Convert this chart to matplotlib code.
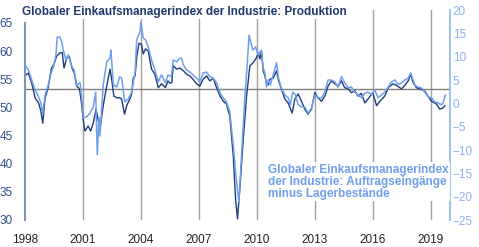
import matplotlib.pyplot as plt

plt.rcParams['font.family'] = ['Liberation Sans', 'DejaVu Sans']

# Globaler EMI Industrie: Produktion (linke Achse)
t_prod = [1998.00, 1998.17, 1998.35, 1998.52, 1998.70, 1998.82, 1998.92, 1999.04, 1999.20, 1999.37,
          1999.50, 1999.64, 1999.81, 1999.93, 2000.02, 2000.16, 2000.30, 2000.43, 2000.55, 2000.67,
          2000.82, 2000.93, 2001.02, 2001.10, 2001.27, 2001.40, 2001.53, 2001.68, 2001.80, 2001.90,
          2002.05, 2002.23, 2002.40, 2002.50, 2002.60, 2002.75, 2002.90, 2003.00, 2003.15, 2003.26,
          2003.43, 2003.52, 2003.60, 2003.70, 2003.78, 2003.90, 2004.03, 2004.12, 2004.24, 2004.38,
          2004.55, 2004.72, 2004.90, 2005.07, 2005.27, 2005.40, 2005.50, 2005.60, 2005.67, 2005.85,
          2006.02, 2006.20, 2006.36, 2006.53, 2006.70, 2006.88, 2007.05, 2007.22, 2007.40, 2007.57,
          2007.74, 2007.92, 2008.10, 2008.26, 2008.43, 2008.52, 2008.60, 2008.78, 2008.90, 2009.00,
          2009.12, 2009.30, 2009.47, 2009.64, 2009.80, 2009.98, 2010.07, 2010.16, 2010.24, 2010.33,
          2010.42, 2010.50, 2010.58, 2010.68, 2010.85, 2011.02, 2011.13, 2011.27, 2011.45, 2011.62,
          2011.83, 2011.97, 2012.14, 2012.31, 2012.48, 2012.65, 2012.83, 2013.00, 2013.17, 2013.35,
          2013.52, 2013.69, 2013.86, 2014.04, 2014.21, 2014.38, 2014.55, 2014.73, 2014.90, 2015.07,
          2015.24, 2015.41, 2015.59, 2015.76, 2016.00, 2016.20, 2016.37, 2016.62, 2016.80, 2017.05,
          2017.23, 2017.49, 2017.66, 2017.83, 2017.97, 2018.09, 2018.26, 2018.43, 2018.69, 2018.86,
          2019.04, 2019.30, 2019.47, 2019.64, 2019.73]
produktion = [55.6, 56.1, 54.3, 51.7, 50.8, 49.4, 47.2, 51.7, 53.5, 57.0,
              57.7, 59.1, 59.7, 59.7, 57.0, 58.8, 59.0, 57.0, 56.1, 53.8,
              53.3, 50.6, 47.6, 45.8, 46.7, 45.8, 47.2, 49.7, 47.5, 46.7,
              50.3, 53.8, 56.8, 54.7, 52.0, 51.7, 51.7, 51.5, 48.8, 50.3,
              51.5, 52.4, 55.2, 55.6, 58.8, 61.4, 61.2, 59.5, 60.4, 60.0,
              56.8, 55.9, 53.5, 54.2, 53.5, 54.7, 54.3, 54.4, 57.4, 56.8,
              57.0, 56.5, 55.9, 55.6, 55.0, 54.2, 53.8, 55.0, 55.6, 54.7,
              55.2, 53.5, 52.0, 51.1, 50.6, 49.4, 48.5, 41.4, 33.7, 30.2,
              35.5, 44.4, 52.0, 57.4, 57.9, 58.8, 59.7, 58.6, 60.0, 56.5,
              55.6, 54.3, 54.0, 55.0, 55.2, 56.5, 54.7, 53.3, 51.5, 50.8,
              49.0, 51.5, 52.4, 51.1, 49.7, 48.8, 49.7, 52.6, 51.7, 51.1,
              52.0, 53.8, 54.7, 54.2, 53.8, 54.7, 53.5, 53.3, 52.6, 53.0,
              52.0, 52.5, 50.8, 51.5, 52.6, 50.3, 51.1, 52.0, 53.5, 54.2,
              53.9, 53.3, 53.9, 54.7, 55.9, 54.4, 53.5, 53.3, 52.9, 52.0,
              51.1, 50.6, 49.7, 49.9, 50.3]

# Auftragseingänge minus Lagerbestände (rechte Achse)
t_auftr = [1998.00, 1998.17, 1998.35, 1998.52, 1998.70, 1998.82, 1998.92, 1999.04, 1999.20, 1999.37,
           1999.50, 1999.60, 1999.67, 1999.81, 1999.90, 1999.98, 2000.12, 2000.24, 2000.42, 2000.54,
           2000.68, 2000.85, 2000.93, 2001.02, 2001.19, 2001.36, 2001.53, 2001.66, 2001.74, 2001.83,
           2001.88, 2002.05, 2002.23, 2002.40, 2002.45, 2002.57, 2002.75, 2002.90, 2003.00, 2003.17,
           2003.35, 2003.52, 2003.70, 2003.78, 2003.95, 2004.00, 2004.12, 2004.24, 2004.38, 2004.55,
           2004.72, 2004.90, 2005.07, 2005.27, 2005.40, 2005.58, 2005.67, 2005.85, 2006.02, 2006.10,
           2006.20, 2006.36, 2006.53, 2006.70, 2006.88, 2007.05, 2007.22, 2007.40, 2007.57, 2007.74,
           2007.92, 2008.10, 2008.26, 2008.43, 2008.60, 2008.78, 2008.95, 2009.07, 2009.20, 2009.38,
           2009.50, 2009.60, 2009.72, 2009.80, 2009.94, 2010.06, 2010.15, 2010.24, 2010.33, 2010.42,
           2010.50, 2010.60, 2010.70, 2010.85, 2011.02, 2011.12, 2011.27, 2011.45, 2011.62, 2011.74,
           2011.86, 2012.00, 2012.14, 2012.31, 2012.49, 2012.66, 2012.83, 2013.00, 2013.17, 2013.35,
           2013.52, 2013.69, 2013.87, 2014.04, 2014.21, 2014.38, 2014.55, 2014.73, 2014.90, 2015.07,
           2015.24, 2015.42, 2015.59, 2015.76, 2015.94, 2016.10, 2016.28, 2016.45, 2016.62, 2016.80,
           2016.97, 2017.14, 2017.31, 2017.49, 2017.66, 2017.83, 2017.97, 2018.09, 2018.18, 2018.35,
           2018.52, 2018.69, 2018.86, 2019.04, 2019.21, 2019.38, 2019.56, 2019.64, 2019.76]
auftraege = [8.2, 7.2, 5.0, 2.9, 1.4, 0.1, -2.1, 1.8, 3.9, 6.7,
             8.2, 10.4, 14.2, 14.2, 13.2, 11.4, 9.3, 10.4, 7.8, 7.2,
             3.9, 4.4, 1.4, -3.1, -2.9, -2.1, -0.8, 2.4, -11.0, -3.0,
             -7.0, 4.0, 8.9, 9.7, 11.4, 4.0, 3.5, 5.7, 5.4, 0.3,
             1.0, 2.4, 6.7, 13.6, 15.3, 17.4, 14.0, 13.6, 12.1, 9.3,
             7.2, 4.6, 6.1, 4.4, 6.1, 5.7, 9.3, 8.9, 9.7, 9.7,
             8.2, 7.2, 6.7, 6.1, 5.4, 4.6, 6.5, 6.7, 5.7, 5.4,
             4.4, 2.2, 1.2, 0.3, -1.8, -8.9, -16.8, -21.1, -11.7, 1.2,
             8.2, 14.6, 12.5, 11.4, 12.1, 10.4, 11.0, 11.4, 7.6, 6.5,
             3.5, 5.0, 3.9, 6.1, 8.7, 5.4, 3.3, 1.8, 1.2, -0.3,
             2.4, 1.8, -0.3, -0.8, -0.8, -2.1, -1.0, 1.8, 1.2, 1.2,
             2.4, 5.0, 5.0, 4.6, 3.5, 5.7, 4.4, 3.3, 3.5, 2.4,
             1.8, 1.2, 2.2, 2.4, 1.8, 2.9, 1.2, 1.8, 2.4, 3.5,
             4.6, 5.0, 4.0, 4.4, 5.0, 5.4, 6.5, 5.0, 3.9, 3.5,
             3.3, 2.4, 1.4, 1.2, 0.3, 0.1, -0.3, 0.1, 1.8]

jahre = [1998, 2001, 2004, 2007, 2010, 2013, 2016, 2019]
links_ticks = [30, 35, 40, 45, 50, 55, 60, 65]
rechts_ticks = [-25, -20, -15, -10, -5, 0, 5, 10, 15, 20]

dunkel = '#1f3d7a'
hell = '#6f9fee'

fig = plt.figure(figsize=(4.79, 2.47), dpi=100)
ax = fig.add_axes([25 / 479, 27 / 247, 425 / 479, 210 / 247])
ax2 = ax.twinx()

for j in jahre[1:]:
    ax.axvline(j, color='#a0a0a0', lw=1.0, zorder=0)
ax.axhline(53.3, color='#808080', lw=1.0, zorder=1)

ax.plot(t_prod, produktion, color=dunkel, lw=1.0, zorder=2)
ax2.plot(t_auftr, auftraege, color=hell, lw=1.1)

ax.set_xlim(1998, 2020)
ax.set_ylim(30, 67.3)
ax2.set_ylim(-25, 20)
ax.set_xticks(jahre)
ax.set_yticks(links_ticks)
ax2.set_yticks(rechts_ticks)

for s in ['top', 'bottom', 'right']:
    ax.spines[s].set_visible(False)
for s in ['top', 'bottom', 'left']:
    ax2.spines[s].set_visible(False)
ax.spines['left'].set_color('#7f93b3')
ax.spines['left'].set_linewidth(1.5)
ax.spines['left'].set_bounds(30, 65)
ax2.spines['right'].set_color('#8fb5f0')
ax2.spines['right'].set_linewidth(1.2)
ax2.spines['right'].set_bounds(-25, 20)

ax.tick_params(axis='y', length=0, pad=9, labelsize=8.5, labelcolor='#2e4d8c')
ax.tick_params(axis='x', length=0, pad=10, labelsize=8.5, labelcolor='#222222')
ax2.tick_params(axis='y', length=0, pad=2, labelsize=8.5, labelcolor='#8cb0ee')

fig.text(22 / 479, 1 - 12 / 247, 'Globaler Einkaufsmanagerindex der Industrie: Produktion',
         fontsize=8.5, fontweight='bold', color='#1f3a6e', va='center', ha='left',
         bbox=dict(facecolor='white', edgecolor='none', pad=1))

ax2.text(2010.6, -16.8,
         'Globaler Einkaufsmanagerindex\nder Industrie: Auftragseingänge\nminus Lagerbestände',
         fontsize=8.5, fontweight='bold', color='#6f9fee', ha='left', va='center',
         linespacing=1.0, zorder=5, clip_on=False,
         bbox=dict(facecolor='white', edgecolor='none', pad=1))

fig.savefig('out.png', dpi=100)
